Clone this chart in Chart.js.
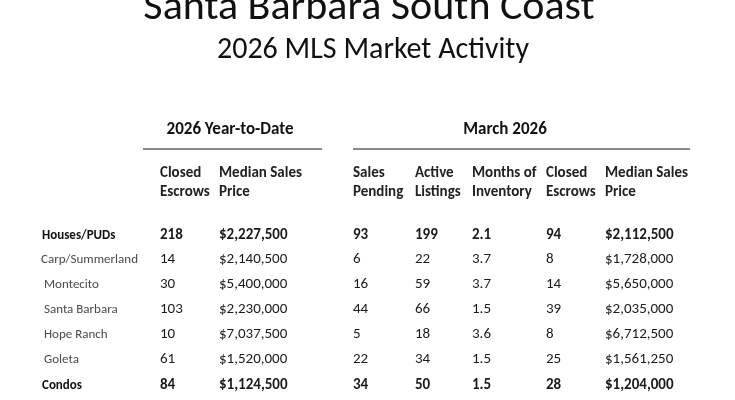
<!DOCTYPE html>
<html>
<head>
<meta charset="utf-8">
<script src="https://cdn.jsdelivr.net/npm/chart.js@4.4.1/dist/chart.umd.min.js"></script>
<style>
  html, body { margin: 0; padding: 0; background: #fff; }
  canvas { display: block; }
</style>
</head>
<body>
<canvas id="table" width="735" height="400"></canvas>
<script>
// table data
const regions = ["Houses/PUDs", "Carp/Summerland", "Montecito", "Santa Barbara", "Hope Ranch", "Goleta", "Condos"];
const boldRows = [true, false, false, false, false, false, true];
const ytdClosed = [218, 14, 30, 103, 10, 61, 84];
const ytdMedian = [2227500, 2140500, 5400000, 2230000, 7037500, 1520000, 1124500];
const salesPending = [93, 6, 16, 44, 5, 22, 34];
const activeListings = [199, 22, 59, 66, 18, 34, 50];
const monthsInventory = [2.1, 3.7, 3.7, 1.5, 3.6, 1.5, 1.5];
const marchClosed = [94, 8, 14, 39, 8, 25, 28];
const marchMedian = [2112500, 1728000, 5650000, 2035000, 6712500, 1561250, 1204000];

const headTop = ["Closed", "Median Sales", "Sales", "Active", "Months of", "Closed", "Median Sales"];
const headBottom = ["Escrows", "Price", "Pending", "Listings", "Inventory", "Escrows", "Price"];

// layout (pixel space of the hidden scales)
const colX = [160, 219, 353, 415, 472, 546, 605];
const rowY = [239, 263, 288, 313, 338, 363, 389];
const labelX = [42, 41, 44, 44, 44, 44, 42];
const FONT = "Carlito, Calibri, Lato, sans-serif";

const money = v => "$" + v.toLocaleString("en-US");
const columns = [
  ytdClosed.map(String),
  ytdMedian.map(money),
  salesPending.map(String),
  activeListings.map(String),
  monthsInventory.map(v => v.toFixed(1)),
  marchClosed.map(String),
  marchMedian.map(money)
];

const datasets = columns.map((texts, c) => ({
  label: headTop[c] + " " + headBottom[c],
  texts: texts,
  data: texts.map((t, r) => ({ x: colX[c], y: rowY[r] })),
  pointRadius: 0,
  showLine: false
}));
datasets.push({
  label: "Region",
  texts: regions,
  isLabel: true,
  data: regions.map((t, r) => ({ x: labelX[r], y: rowY[r] })),
  pointRadius: 0,
  showLine: false
});

const tableText = {
  id: "tableText",
  afterDatasetsDraw(chart) {
    const ctx = chart.ctx;
    const sx = chart.scales.x, sy = chart.scales.y;
    const px = v => sx.getPixelForValue(v);
    const py = v => sy.getPixelForValue(v);
    ctx.save();
    ctx.textBaseline = "alphabetic";

    // titles
    ctx.fillStyle = "#111";
    ctx.textAlign = "center";
    ctx.font = "42px " + FONT;
    ctx.fillText("Santa Barbara South Coast", px(369), py(19));
    ctx.font = "30px " + FONT;
    ctx.fillText("2026 MLS Market Activity", px(373), py(58));

    // group headers and rules
    ctx.font = "bold 17px " + FONT;
    ctx.fillText("2026 Year-to-Date", px(230), py(134));
    ctx.fillText("March 2026", px(505), py(134));
    ctx.strokeStyle = "#8a8a8a";
    ctx.lineWidth = 2;
    ctx.beginPath();
    ctx.moveTo(px(143), py(149)); ctx.lineTo(px(322), py(149));
    ctx.moveTo(px(353), py(149)); ctx.lineTo(px(690), py(149));
    ctx.stroke();

    // column headers
    ctx.textAlign = "left";
    ctx.font = "bold 15px " + FONT;
    ctx.fillStyle = "#222";
    colX.forEach((x, c) => {
      ctx.fillText(headTop[c], px(x), py(177));
      ctx.fillText(headBottom[c], px(x), py(196));
    });

    // cells
    chart.data.datasets.forEach((ds, d) => {
      const meta = chart.getDatasetMeta(d);
      meta.data.forEach((el, r) => {
        if (ds.isLabel) {
          ctx.fillStyle = boldRows[r] ? "#111" : "#4a4a4a";
          ctx.font = (boldRows[r] ? "bold 13px " : "13px ") + FONT;
        } else {
          ctx.fillStyle = "#1a1a1a";
          ctx.font = (boldRows[r] ? "bold 15px " : "15px ") + FONT;
        }
        ctx.fillText(ds.texts[r], el.x, el.y);
      });
    });
    ctx.restore();
  }
};

new Chart(document.getElementById("table"), {
  type: "scatter",
  data: { datasets: datasets },
  options: {
    responsive: false,
    animation: false,
    layout: { padding: 0 },
    plugins: { legend: { display: false }, tooltip: { enabled: false }, title: { display: false } },
    scales: {
      x: { type: "linear", min: 0, max: 735, display: false },
      y: { type: "linear", min: 0, max: 400, reverse: true, display: false }
    }
  },
  plugins: [tableText]
});
</script>
</body>
</html>
